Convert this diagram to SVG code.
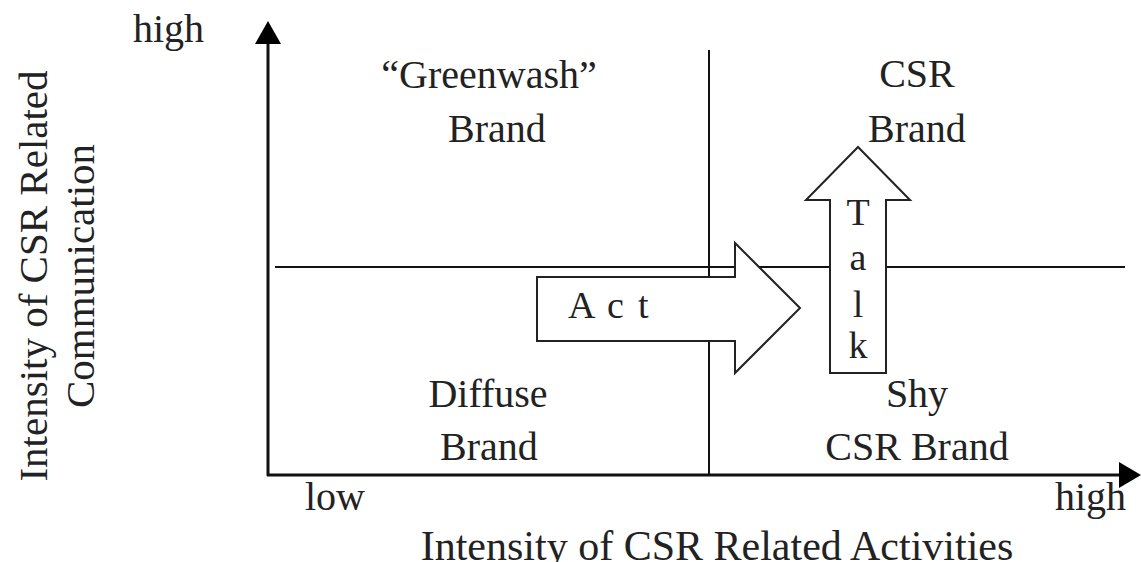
<svg xmlns="http://www.w3.org/2000/svg" width="1141" height="562" viewBox="0 0 1141 562">
<style>
text{font-family:"Liberation Serif","Times New Roman",serif;font-size:40px;fill:#222;}
.c{text-anchor:middle}
.ln{stroke:#111;stroke-width:2;fill:none}
.ax{stroke:#111;stroke-width:3;fill:none}
.ar{fill:#fff;stroke:#222;stroke-width:2}
.lt{font-size:38px}
</style>
<rect width="1141" height="562" fill="#fff"/>
<g id="connectors">
<line class="ax" x1="268" y1="476" x2="268" y2="40"/>
<polygon points="268,21 255,44 281,44" fill="#000"/>
<line class="ax" x1="267" y1="475" x2="1122" y2="475"/>
<polygon points="1141,475 1119,462 1119,488" fill="#000"/>
<line class="ln" x1="709" y1="50" x2="709" y2="475"/>
<line class="ln" x1="275" y1="267" x2="1125" y2="267"/>
</g>
<g id="act">
<path class="ar" d="M537,277 L735,277 L735,243 L800,308 L735,373 L735,341 L537,341 Z"/>
<text class="lt" y="318"><tspan x="568">A</tspan><tspan x="607">c</tspan><tspan x="638">t</tspan></text>
</g>
<g id="talk">
<path class="ar" d="M830,373 L830,200 L806,200 L858,147 L910,200 L886,200 L886,373 Z"/>
<text class="c lt" x="858" y="225">T</text>
<text class="c lt" x="858" y="270">a</text>
<text class="c lt" x="858" y="317">l</text>
<text class="c lt" x="858" y="358">k</text>
</g>
<g id="greenwash">
<text class="c" x="489" y="88">“Greenwash”</text>
<text class="c" x="497" y="142">Brand</text>
</g>
<g id="csr">
<text class="c" x="917" y="87">CSR</text>
<text class="c" x="917" y="142">Brand</text>
</g>
<g id="diffuse">
<text class="c" x="488" y="407">Diffuse</text>
<text class="c" x="489" y="460">Brand</text>
</g>
<g id="shy">
<text class="c" x="917" y="407">Shy</text>
<text class="c" x="917" y="460">CSR Brand</text>
</g>
<g id="axis-labels">
<text x="133" y="42">high</text>
<text x="305" y="510">low</text>
<text x="1055" y="510">high</text>
<text class="c" x="717" y="560" style="font-size:42px">Intensity of CSR Related Activities</text>
<text class="c" transform="translate(47,276) rotate(-90)" style="font-size:41px">Intensity of CSR Related</text>
<text class="c" transform="translate(94,276) rotate(-90)" style="font-size:41px">Communication</text>
</g>
</svg>
